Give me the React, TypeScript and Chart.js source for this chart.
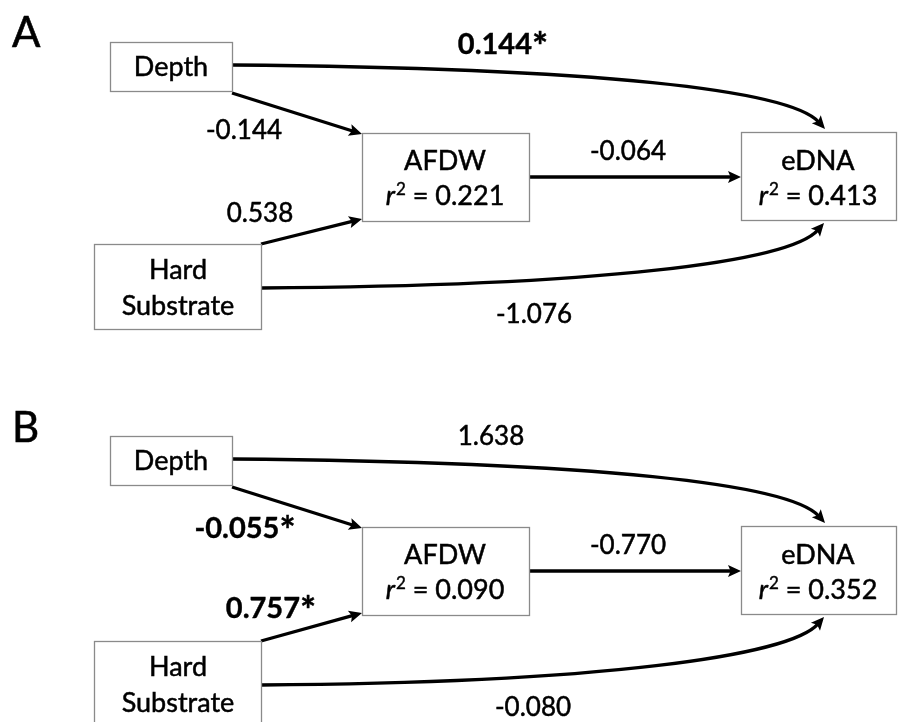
import React, { useEffect, useRef } from "react";
import { Chart, registerables } from "chart.js";

Chart.register(...registerables);

// ---------------- data ----------------
const panelLetters = ["A", "B"];
const nodeNames = ["Depth", "Hard\nSubstrate", "AFDW", "eDNA"];
const r2AFDW = ["0.221", "0.090"];
const r2eDNA = ["0.413", "0.352"];
// path order: Depth→eDNA, Depth→AFDW, Hard→AFDW, AFDW→eDNA, Hard→eDNA
const coefA = ["0.144", "-0.144", "0.538", "-0.064", "-1.076"];
const coefB = ["1.638", "-0.055", "0.757", "-0.770", "-0.080"];
const sigA = [true, false, false, false, false];
const sigB = [false, true, true, false, false];

// ---------------- layout (scale units) ----------------
const panelDy = [0, 394];
const hardExtraDy = [0, 3];
const FONT = "Lato, 'Open Sans', sans-serif";

function buildPanel(p: number) {
  const dy = panelDy[p];
  const hd = dy + hardExtraDy[p];
  return {
    letter: { x: 12, y: 47 + dy + (p === 1 ? 1 : 0) },
    boxes: [
      { x0: 110, y0: 42 + dy, x1: 232, y1: 91 + dy },
      { x0: 94, y0: 244 + hd, x1: 261, y1: 329 + hd },
      { x0: 362, y0: 133 + dy, x1: 529, y1: 221 + dy },
      { x0: 741, y0: 132 + dy, x1: 896, y1: 220 + dy },
    ],
    nodeText: [
      { x: 171, ys: [76 + dy] },
      { x: 178, ys: [279 + hd, 315 + hd] },
      { x: 445, ys: [170 + dy, 205 + dy] },
      { x: 818, ys: [170 + dy, 205 + dy] },
    ],
    paths: [
      { pts: [[232, 65 + dy], [600, 68 + dy], [790, 90 + dy], [825, 129 + dy]] },
      { pts: [[232, 93 + dy], [362, 134 + dy]] },
      { pts: [[261, 244 + hd], [362, 219 + dy]] },
      { pts: [[529, 177 + dy], [741, 177 + dy]] },
      { pts: [[261, 288 + hd], [600, 286 + hd], [790, 262 + dy], [824, 223 + dy]] },
    ],
    labelPos:
      p === 0
        ? [[503, 54], [244, 139], [260, 222], [628, 160], [534, 323]]
        : [[491, 445], [245, 538], [271, 618], [628, 554], [533, 716]],
  };
}

const panels = [buildPanel(0), buildPanel(1)];

function heavyText(ctx: CanvasRenderingContext2D, s: string, x: number, y: number, w = 0.5) {
  ctx.fillText(s, x, y);
  ctx.lineWidth = w;
  ctx.strokeStyle = ctx.fillStyle as string;
  ctx.strokeText(s, x, y);
}

const diagramPlugin = {
  id: "pathDiagram",
  afterDraw(chart: any) {
    const ctx: CanvasRenderingContext2D = chart.ctx;
    const xs = chart.scales.x;
    const ys = chart.scales.y;
    const X = (v: number) => xs.getPixelForValue(v);
    const Y = (v: number) => ys.getPixelForValue(v);

    ctx.save();
    ctx.fillStyle = "#ffffff";
    ctx.fillRect(0, 0, chart.width, chart.height);
    ctx.lineJoin = "miter";

    panels.forEach((pl, p) => {
      const coefs = p === 0 ? coefA : coefB;
      const sigs = p === 0 ? sigA : sigB;
      const r2s = [r2AFDW[p], r2eDNA[p]];

      // panel letter
      ctx.fillStyle = "#000";
      ctx.font = `42px ${FONT}`;
      ctx.textAlign = "left";
      ctx.textBaseline = "alphabetic";
      heavyText(ctx, panelLetters[p], X(pl.letter.x), Y(pl.letter.y), 0.6);

      // arrows
      ctx.strokeStyle = "#000";
      ctx.fillStyle = "#000";
      ctx.lineCap = "butt";
      pl.paths.forEach((path) => {
        const pts = path.pts.map(([a, b]) => [X(a), Y(b)]);
        const tip = pts[pts.length - 1];
        const prev = pts[pts.length - 2];
        const ang = Math.atan2(tip[1] - prev[1], tip[0] - prev[0]);
        const len = 13;
        const half = 6;
        const endX = tip[0] - Math.cos(ang) * len * 0.7;
        const endY = tip[1] - Math.sin(ang) * len * 0.7;
        ctx.lineWidth = 3.3;
        ctx.strokeStyle = "#000";
        ctx.beginPath();
        ctx.moveTo(pts[0][0], pts[0][1]);
        if (pts.length === 4) {
          ctx.bezierCurveTo(pts[1][0], pts[1][1], pts[2][0], pts[2][1], endX, endY);
        } else {
          ctx.lineTo(endX, endY);
        }
        ctx.stroke();
        ctx.beginPath();
        ctx.moveTo(tip[0], tip[1]);
        ctx.lineTo(
          tip[0] - len * Math.cos(ang) + half * Math.sin(ang),
          tip[1] - len * Math.sin(ang) - half * Math.cos(ang)
        );
        ctx.lineTo(
          tip[0] - len * 0.8 * Math.cos(ang),
          tip[1] - len * 0.8 * Math.sin(ang)
        );
        ctx.lineTo(
          tip[0] - len * Math.cos(ang) - half * Math.sin(ang),
          tip[1] - len * Math.sin(ang) + half * Math.cos(ang)
        );
        ctx.closePath();
        ctx.fill();
      });

      // boxes
      ctx.strokeStyle = "#8a8a8a";
      ctx.lineWidth = 1.3;
      pl.boxes.forEach((b) => {
        const x0 = X(b.x0), y0 = Y(b.y0), x1 = X(b.x1), y1 = Y(b.y1);
        ctx.fillStyle = "#fff";
        ctx.fillRect(x0, y0, x1 - x0, y1 - y0);
        ctx.strokeRect(x0 + 0.5, y0 + 0.5, x1 - x0, y1 - y0);
      });

      // node names
      ctx.fillStyle = "#000";
      ctx.textAlign = "center";
      ctx.font = `27px ${FONT}`;
      nodeNames.forEach((name, i) => {
        const t = pl.nodeText[i];
        const lines = name.split("\n");
        lines.forEach((ln, k) => {
          heavyText(ctx, ln, X(t.x), Y(t.ys[k]));
        });
      });

      // r² lines
      [2, 3].forEach((ni, k) => {
        const t = pl.nodeText[ni];
        const fMain = `27px ${FONT}`;
        const fIt = `italic 27px ${FONT}`;
        const fSup = `17px ${FONT}`;
        const rest = ` = ${r2s[k]}`;
        ctx.font = fIt;
        const wR = ctx.measureText("r").width;
        ctx.font = fSup;
        const wS = ctx.measureText("2").width;
        ctx.font = fMain;
        const wRest = ctx.measureText(rest).width;
        const total = wR + wS + 1 + wRest;
        let x = X(t.x) - total / 2;
        const y = Y(t.ys[1]);
        ctx.textAlign = "left";
        ctx.font = fIt;
        heavyText(ctx, "r", x, y);
        x += wR + 1;
        ctx.font = fSup;
        heavyText(ctx, "2", x, y - 10, 0.4);
        x += wS;
        ctx.font = fMain;
        heavyText(ctx, rest, x, y);
        ctx.textAlign = "center";
      });

      // coefficient labels
      coefs.forEach((c, i) => {
        const [lx, ly] = pl.labelPos[i];
        if (sigs[i]) {
          const fNum = `bold 29px ${FONT}`;
          const fAst = `bold 38px ${FONT}`;
          ctx.font = fNum;
          const wN = ctx.measureText(c).width;
          ctx.font = fAst;
          const wA = ctx.measureText("*").width;
          let x = X(lx) - (wN + wA) / 2;
          ctx.textAlign = "left";
          ctx.font = fNum;
          heavyText(ctx, c, x, Y(ly), 0.4);
          x += wN;
          ctx.font = fAst;
          heavyText(ctx, "*", x, Y(ly) + 6, 0.4);
          ctx.textAlign = "center";
        } else {
          ctx.font = `26px ${FONT}`;
          ctx.textAlign = "center";
          heavyText(ctx, c, X(lx), Y(ly));
        }
      });
    });
    ctx.restore();
  },
};

export default function App() {
  const canvasRef = useRef<HTMLCanvasElement | null>(null);

  useEffect(() => {
    if (!canvasRef.current) return;
    const anchors = panels.flatMap((pl) =>
      pl.boxes.map((b) => ({ x: (b.x0 + b.x1) / 2, y: (b.y0 + b.y1) / 2 }))
    );
    const chart = new Chart(canvasRef.current, {
      type: "scatter",
      data: {
        datasets: [
          {
            label: "nodes",
            data: anchors,
            pointRadius: 0,
            pointHoverRadius: 0,
          },
        ],
      },
      options: {
        animation: false,
        responsive: true,
        maintainAspectRatio: false,
        layout: { padding: 0 },
        plugins: { legend: { display: false }, tooltip: { enabled: false } },
        events: [],
        scales: {
          x: { type: "linear", min: 0, max: 898, display: false },
          y: { type: "linear", min: 0, max: 722, reverse: true, display: false },
        },
      },
      plugins: [diagramPlugin],
    });
    return () => chart.destroy();
  }, []);

  return (
    <div
      style={{
        position: "fixed",
        left: 0,
        top: 0,
        width: 898,
        height: 722,
        background: "#fff",
      }}
    >
      <canvas ref={canvasRef} />
    </div>
  );
}
